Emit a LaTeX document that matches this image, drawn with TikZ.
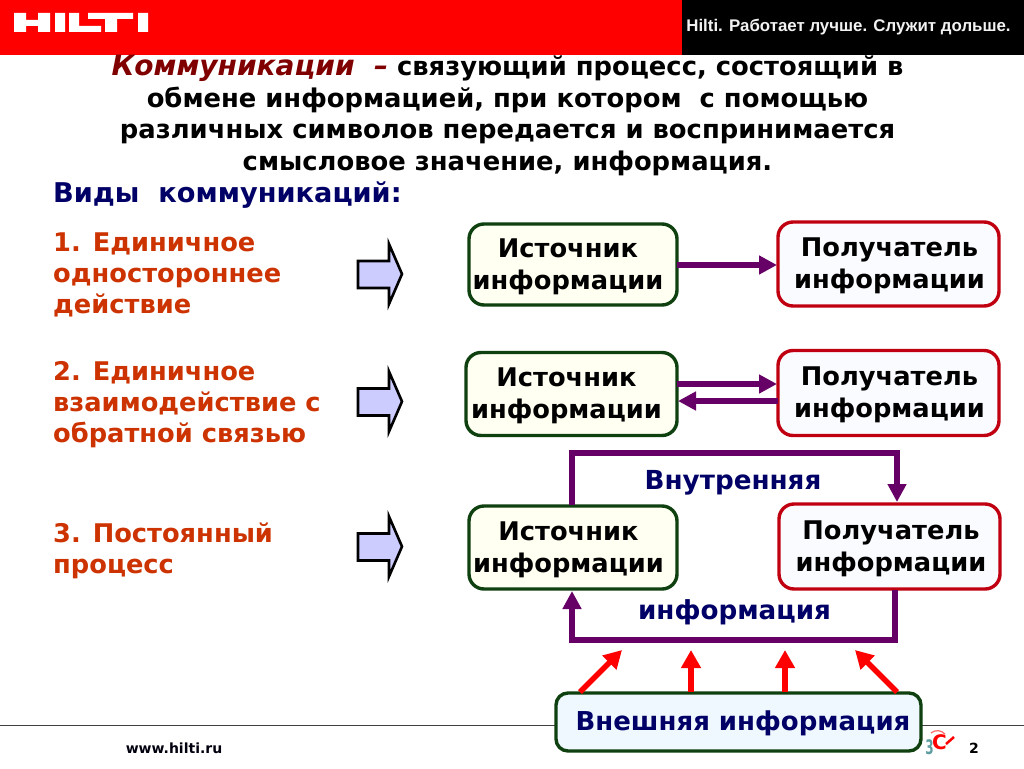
\documentclass[tikz,border=0pt]{standalone}
\usepackage{fontspec}
\setmainfont{DejaVu Sans}
\newfontfamily\arialish{Liberation Sans}
\usetikzlibrary{arrows.meta}
\definecolor{hred}{HTML}{FF0000}
\definecolor{srcedge}{HTML}{0F400F}
\definecolor{srcfill}{HTML}{FFFFF2}
\definecolor{recedge}{HTML}{C00010}
\definecolor{recfill}{HTML}{FAFBFF}
\definecolor{extfill}{HTML}{F0F8FF}
\definecolor{conn}{HTML}{660066}
\definecolor{navy}{HTML}{000066}
\definecolor{ltext}{HTML}{CC3300}
\definecolor{titlered}{HTML}{800000}
\definecolor{blockfill}{HTML}{CCCCFF}
\definecolor{teal3}{HTML}{5F9EA0}
\newcommand{\fs}[2]{\fontsize{#1}{#2}\selectfont\bfseries}
\newcommand{\lft}[2]{#2\hspace*{#1pt}}
\newcommand{\rgt}[2]{\hspace*{#1pt}#2}
\newcommand{\dn}{\rule{0pt}{23pt}}
\tikzset{
 x=1pt,y=-1pt,
 box/.style={rectangle,rounded corners=15pt,line width=3.4pt,anchor=north west,align=center,inner sep=0pt,outer sep=0pt,font=\fs{25.7}{32}\color{black}},
 srcbox/.style={box,draw=srcedge,fill=srcfill},
 recbox/.style={box,draw=recedge,fill=recfill},
 extbox/.style={box,draw=srcedge,fill=extfill,font=\fs{26}{30}\color{navy},rounded corners=12pt},
 flow/.style={draw=conn,line width=5.6pt,shorten >=1pt,-{Triangle[length=18pt,width=18pt]}},
 ext/.style={draw=hred,line width=5.6pt,-{Triangle[length=18pt,width=19pt]}},
 blockarrow/.style={draw=black,line width=2.6pt,fill=blockfill,line join=miter},
 ltxt/.style={anchor=north west,align=left,inner sep=0pt,text=ltext,font=\fs{25.7}{31}},
 lab/.style={inner sep=0pt,text=navy,font=\fs{26.2}{30}}
}
\begin{document}
\begin{tikzpicture}
\useasboundingbox (0,0) rectangle (1024,768);
\fill[white] (0,0) rectangle (1024,768);
% header
\fill[hred] (0,0) rectangle (682,55);
\fill[black] (682,0) rectangle (1024,55);
\fill[white] (14,13) rectangle (26,32) (38,13) rectangle (50,32) (26,20) rectangle (38,26)
 (55,13) rectangle (65,32)
 (69,13) rectangle (79,32) (79,26) rectangle (101,32)
 (88,13) rectangle (133,19) (105,19) rectangle (117,32)
 (138,13) rectangle (148,32);
\node[inner sep=0pt,text=white!95!black,font=\arialish\fs{16.85}{18}] (slogan) at (848.5,27) {Hilti. Работает лучше. Служит дольше.};
% title
\node[inner sep=0pt,align=center,text=black,font=\fs{25.8}{31.5}] (title) at (507.5,115.5)
 {{\color{titlered}\itshape\fontsize{28}{31.5}\selectfont Коммуникации\ \ –} связующий процесс, состоящий в\\
 обмене информацией, при котором\ \ с помощью\\
 различных символов передается и воспринимается\\
 смысловое значение, информация.};
\node[anchor=west,inner sep=0pt,text=navy,font=\fs{27.2}{30}] (kinds) at (53,195) {Виды\ \ коммуникаций:};
% left text
\node[ltxt] (t1) at (53,233) {1. Единичное\\одностороннее\\действие};
\node[ltxt] (t2) at (53,361) {2. Единичное\\взаимодействие с\\обратной связью};
\node[ltxt] (t3) at (53,523) {3. Постоянный\\процесс};
% block arrows
\foreach \n/\d in {a/0,b/127.5,c/272.5}{
 \draw[blockarrow,yshift=-\d pt] (358,261) -- (389,261) -- (389,244) -- (402,274) -- (389,304) -- (389,288) -- (358,288) -- cycle;
}
% footer line
\coordinate (fl) at (0,725);
\coordinate (fr) at (1024,725);
\draw[draw=black!75,line width=1pt] (fl) -- (fr);
% boxes
\node[srcbox,minimum width=208pt,minimum height=81pt] (s1) at (469,224) {\dn\lft{10}{Источник}\\\lft{10}{информации}};
\node[recbox,minimum width=221pt,minimum height=84pt] (r1) at (778,222) {\dn\rgt{2}{Получатель}\\\rgt{2}{информации}};
\node[srcbox,minimum width=211pt,minimum height=83pt] (s2) at (466,352.5) {\dn\lft{10}{Источник}\\\lft{10}{информации}};
\node[recbox,minimum width=221pt,minimum height=85pt] (r2) at (778,350.5) {\dn\rgt{2}{Получатель}\\\rgt{2}{информации}};
\node[srcbox,minimum width=208pt,minimum height=83pt] (s3) at (469,506) {\dn\lft{9}{Источник}\\\lft{9}{информации}};
\node[recbox,minimum width=221pt,minimum height=85pt] (r3) at (779,504) {\dn\rgt{3}{Получатель}\\\rgt{3}{информации}};
\node[extbox,minimum width=365pt,minimum height=58pt] (e) at (556,693) {\rule{0pt}{22pt}\rgt{9}{Внешняя информация}};
% labels
\node[lab] (inner) at (733,483) {Внутренняя};
\node[lab] (info) at (734.5,612.5) {информация};
% connectors
\draw[flow] (s1.east |- 0,265) -- (r1.west |- 0,265);
\draw[flow] (s2.east |- 0,384) -- (r2.west |- 0,384);
\draw[flow] (r2.west |- 0,401) -- (s2.east |- 0,401);
\draw[flow,line join=miter] (572,505) -- (572,453) -- (897,453) -- (897,503);
\draw[flow,line join=miter] (895,590) -- (895,640) -- (572,640) -- (572,590);
\foreach \a/\b in {580/622,691/691,785/785,897/855}{
 \draw[ext] (\a,692) -- (\b,650);
}
% footer
\node[inner sep=0pt,text=black!85!navy,font=\fs{14}{17}] (url) at (174,748) {www.hilti.ru};
\node[inner sep=0pt,text=black,font=\fs{14}{17}] (page) at (974,748) {2};
\node[inner sep=0pt,text=teal3,font=\fs{20}{20}] (three) at (929.5,747.5) {\scalebox{.6}[1]{3}};
\node[inner sep=0pt,text=hred,font=\fs{20}{20}] (cee) at (939.5,742) {C};
\draw[hred!60,line width=1.2pt] (931,733) arc[start angle=130,end angle=40,radius=10pt];
\draw[hred,line width=2.5pt] (946,744) -- (954,737);
\end{tikzpicture}
\end{document}
